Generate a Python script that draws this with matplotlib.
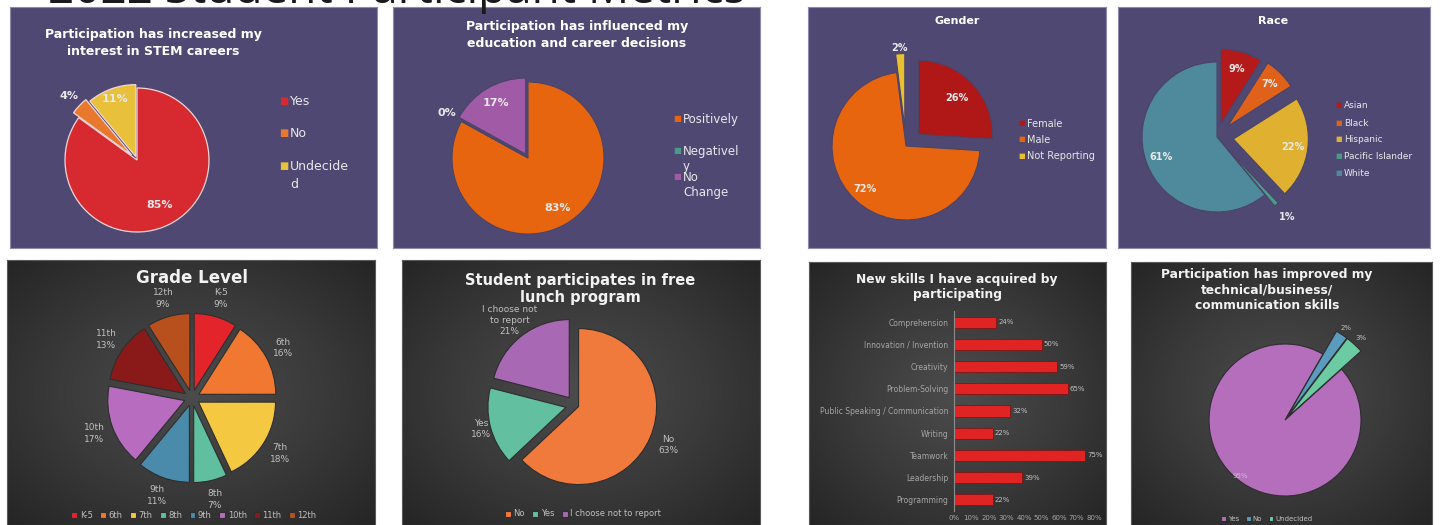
import numpy as np
import matplotlib.pyplot as plt
from matplotlib.colors import LinearSegmentedColormap

W, H = 1440, 525

# ---- data ----
stem_labels = ["Yes", "No", "Undecided"]
stem_vals = [85, 4, 11]

edu_labels = ["Positively", "Negatively", "No Change"]
edu_vals = [83, 0, 17]

gender_labels = ["Female", "Male", "Not Reporting"]
gender_vals = [26, 72, 2]

race_labels = ["Asian", "Black", "Hispanic", "Pacific Islander", "White"]
race_vals = [9, 7, 22, 1, 61]

grade_labels = ["K-5", "6th", "7th", "8th", "9th", "10th", "11th", "12th"]
grade_vals = [9, 16, 18, 7, 11, 17, 13, 9]

lunch_labels = ["No", "Yes", "I choose not to report"]
lunch_vals = [63, 16, 21]

skill_labels = ["Comprehension", "Innovation / Invention", "Creativity",
                "Problem-Solving", "Public Speaking / Communication", "Writing",
                "Teamwork", "Leadership", "Programming"]
skill_vals = [24, 50, 59, 65, 32, 22, 75, 39, 22]

comm_labels = ["Yes", "No", "Undecided"]
comm_vals = [95, 2, 3]

PURPLE = '#4f4873'
TXT = '#e8e8e8'
GREY = '#c0c0c0'

fig = plt.figure(figsize=(W / 100, H / 100), dpi=100)
fig.patch.set_facecolor('white')


def fx(x):
    return x / W


def fy(y):
    return 1 - y / H


dark_cmap = LinearSegmentedColormap.from_list('vig', ['#4c4c4c', '#3a3a3a', '#242424'])


def panel(x0, y0, x1, y1, dark=False):
    ax = fig.add_axes([fx(x0), fy(y1), (x1 - x0) / W, (y1 - y0) / H])
    if dark:
        yy, xx = np.mgrid[-1:1:200j, -1:1:200j]
        ax.imshow(np.sqrt(xx ** 2 + yy ** 2), cmap=dark_cmap, vmin=0, vmax=1.45,
                  extent=[0, 1, 0, 1], aspect='auto')
        edge = '#5a5a5a'
    else:
        ax.set_facecolor(PURPLE)
        edge = '#8e89ad'
    ax.set_xticks([])
    ax.set_yticks([])
    for s in ax.spines.values():
        s.set_color(edge)
        s.set_linewidth(0.8)
    return ax


def draw_pie(cx, cy, r, vals, colors, start, explode, edge, lw, h=None):
    h = h or 1.7 * r
    ax = fig.add_axes([fx(cx - h), fy(cy + h), 2 * h / W, 2 * h / H])
    wedges, _ = ax.pie(vals, colors=colors, startangle=start, counterclock=False,
                       explode=explode, wedgeprops=dict(edgecolor=edge, linewidth=lw))
    lim = h / r
    ax.set_xlim(-lim, lim)
    ax.set_ylim(-lim, lim)
    ax.set_aspect('equal')
    ax.axis('off')
    return ax, wedges


def slice_text(ax, w, txt, dist, **kw):
    ang = np.deg2rad((w.theta1 + w.theta2) / 2)
    x0, y0 = w.center
    ax.text(x0 + dist * np.cos(ang), y0 + dist * np.sin(ang), txt,
            ha='center', va='center', **kw)


def side_legend(x, ys, labels, wedges, size, msize, step):
    # excel-style legend: wrapped labels, one text per line
    for y, lab, w in zip(ys, labels, wedges):
        fig.text(fx(x), fy(y), '■', color=w.get_facecolor(), fontsize=msize,
                 ha='right', va='center_baseline')
        for j, line in enumerate(lab.split('\n')):
            fig.text(fx(x + 2), fy(y + j * step), line, color=TXT, fontsize=size,
                     ha='left', va='center_baseline')


def bottom_legend(ax, wedges, labels, x, y, size):
    ax.legend(wedges, labels, loc='center', bbox_to_anchor=(fx(x), fy(y)),
              bbox_transform=fig.transFigure, ncol=len(labels), frameon=False,
              fontsize=size, labelcolor=GREY, handlelength=0.7, handleheight=0.7,
              handletextpad=0.3, columnspacing=0.9)


# main heading, cut off by the top edge as in the slide capture
fig.text(fx(48), fy(3), '2022 Student Participant Metrics', fontsize=33,
         color='#1a1a1a', family='Open Sans', va='baseline', ha='left')

# ---- panel 1: STEM interest ----
panel(10, 7, 377, 248)
ax, ws = draw_pie(137, 160, 72, stem_vals, ['#d62a30', '#e8782b', '#e8c03a'], 90,
                  [0, 0.1, 0.05], '#f0d6d6', 0.9)
for w, v, d in zip(ws, stem_vals, [0.7, 1.2, 0.85]):
    slice_text(ax, w, f'{v}%', d, color=TXT, fontsize=8, fontweight='bold')
fig.text(fx(153), fy(43), 'Participation has increased my\ninterest in STEM careers',
         ha='center', va='center', color='white', fontsize=9, fontweight='bold',
         linespacing=1.4)
side_legend(288, [100, 132, 165], ['Yes', 'No', 'Undecide\nd'], ws, 9, 7, 18)

# ---- panel 2: education decisions ----
panel(393, 7, 760, 248)
ax, ws = draw_pie(528, 158, 76, edu_vals, ['#e8650f', '#4a9a8a', '#a15aa5'], 90,
                  [0, 0, 0.06], '#4a4468', 0.8)
for w, v, d in zip(ws, edu_vals, [0.76, 1.22, 0.78]):
    slice_text(ax, w, f'{v}%', d, color=TXT, fontsize=8, fontweight='bold')
fig.text(fx(577), fy(35), 'Participation has influenced my\neducation and career decisions',
         ha='center', va='center', color='white', fontsize=9, fontweight='bold',
         linespacing=1.4)
side_legend(681, [118, 150, 176], ['Positively', 'Negativel\ny', 'No\nChange'], ws,
            8.5, 6, 15)

# ---- panel 3: gender ----
panel(808, 7, 1106, 248)
ax, ws = draw_pie(906, 146, 74, gender_vals, ['#b01818', '#e8650f', '#e8c030'], 90,
                  [0.23, 0, 0.25], '#4a4468', 0.8)
for w, v, d in zip(ws, gender_vals, [0.72, 0.8, 1.08]):
    slice_text(ax, w, f'{v}%', d, color=TXT, fontsize=7, fontweight='bold')
fig.text(fx(957), fy(21), 'Gender', ha='center', va='center', color='white',
         fontsize=8, fontweight='bold')
side_legend(1025, [123, 139, 155], gender_labels, ws, 7, 5, 12)

# ---- panel 4: race ----
panel(1118, 7, 1430, 248)
ax, ws = draw_pie(1217, 137, 75, race_vals,
                  ['#b51a1a', '#e0621a', '#e0b030', '#4a9a8a', '#4f8a9c'], 90,
                  [0.18, 0.2, 0.22, 0.2, 0], '#4a4468', 0.8)
for w, v, d in zip(ws, race_vals, [0.76, 0.8, 0.8, 1.22, 0.8]):
    slice_text(ax, w, f'{v}%', d, color=TXT, fontsize=7, fontweight='bold')
fig.text(fx(1273), fy(21), 'Race', ha='center', va='center', color='white',
         fontsize=8, fontweight='bold')
side_legend(1342, [105, 122, 138, 155, 172], race_labels, ws, 6.5, 5, 12)

# ---- panel 5: grade level ----
panel(7, 260, 375, 525, dark=True)
ax, ws = draw_pie(192, 398, 77, grade_vals,
                  ['#e3242b', '#f07830', '#f5c842', '#5fbf9f', '#4a8aaa',
                   '#b86cc0', '#8a1a1a', '#b8501e'], 90,
                  [0.1] * 8, '#2e2e2e', 0.8)
for w, lab, v in zip(ws, grade_labels, grade_vals):
    slice_text(ax, w, f'{lab}\n{v}%', 1.25, color=GREY, fontsize=6.5, linespacing=1.4)
fig.text(fx(192), fy(278), 'Grade Level', ha='center', va='center', color='#f2f2f2',
         fontsize=12, fontweight='bold')
bottom_legend(ax, ws, grade_labels, 194, 515, 6)

# ---- panel 6: free lunch ----
panel(402, 260, 760, 525, dark=True)
ax, ws = draw_pie(575, 405, 78, lunch_vals, ['#f07a3c', '#62bfa0', '#a868b4'], 90,
                  [0.05, 0.12, 0.12], '#2e2e2e', 0.8)
lunch_txt = ['No', 'Yes', 'I choose not\nto report']
for w, lab, v, d in zip(ws, lunch_txt, lunch_vals, [1.25, 1.12, 1.25]):
    slice_text(ax, w, f'{lab}\n{v}%', d, color=GREY, fontsize=6.5, linespacing=1.3)
fig.text(fx(580), fy(289), 'Student participates in free\nlunch program', ha='center',
         va='center', color='#f2f2f2', fontsize=10.5, fontweight='bold', linespacing=1.1)
bottom_legend(ax, ws, lunch_labels, 583, 514, 6)

# ---- panel 7: new skills ----
panel(809, 262, 1106, 525, dark=True)
ax = fig.add_axes([fx(954), fy(511), 140 / W, 200 / H])
ax.set_facecolor('none')
ypos = np.arange(len(skill_vals))
ax.barh(ypos, skill_vals, height=0.5, color='#e02424', edgecolor='#7a1010', linewidth=0.5)
for yp, v in zip(ypos, skill_vals):
    ax.text(v + 1.2, yp, f'{v}%', color=GREY, fontsize=5, va='center')
ax.set_xlim(0, 80)
ax.set_ylim(len(skill_vals) - 0.5, -0.5)
ax.set_yticks(ypos, skill_labels)
ax.set_xticks(range(0, 81, 10), [f'{t}%' for t in range(0, 81, 10)])
ax.tick_params(colors='#a6a6a6', labelsize=5.5, length=0, pad=4)
ax.tick_params(axis='x', labelsize=5, pad=3)
for k, s in ax.spines.items():
    s.set_visible(k == 'left')
ax.spines['left'].set_color('#8c8c8c')
fig.text(fx(957), fy(287), 'New skills I have acquired by\nparticipating', ha='center',
         va='center', color='#f2f2f2', fontsize=8.8, fontweight='bold', linespacing=1.25)

# ---- panel 8: improved skills ----
panel(1131, 262, 1432, 525, dark=True)
ax, ws = draw_pie(1285, 420, 76, comm_vals, ['#b46ebc', '#5b9bbd', '#6bcba3'], 42,
                  [0, 0.05, 0.05], '#2e2e2e', 0.8)
ws[1].set_radius(1.3)
ws[2].set_radius(1.3)
for w, v, d in zip(ws, comm_vals, [0.94, 1.4, 1.42]):
    slice_text(ax, w, f'{v}%', d, color=GREY, fontsize=5)
fig.text(fx(1267), fy(290), 'Participation has improved my\ntechnical/business/\ncommunication skills',
         ha='center', va='center', color='#f2f2f2', fontsize=8.8, fontweight='bold',
         linespacing=1.25)
bottom_legend(ax, ws, comm_labels, 1267, 519, 5)

fig.savefig('out.png', dpi=100)
